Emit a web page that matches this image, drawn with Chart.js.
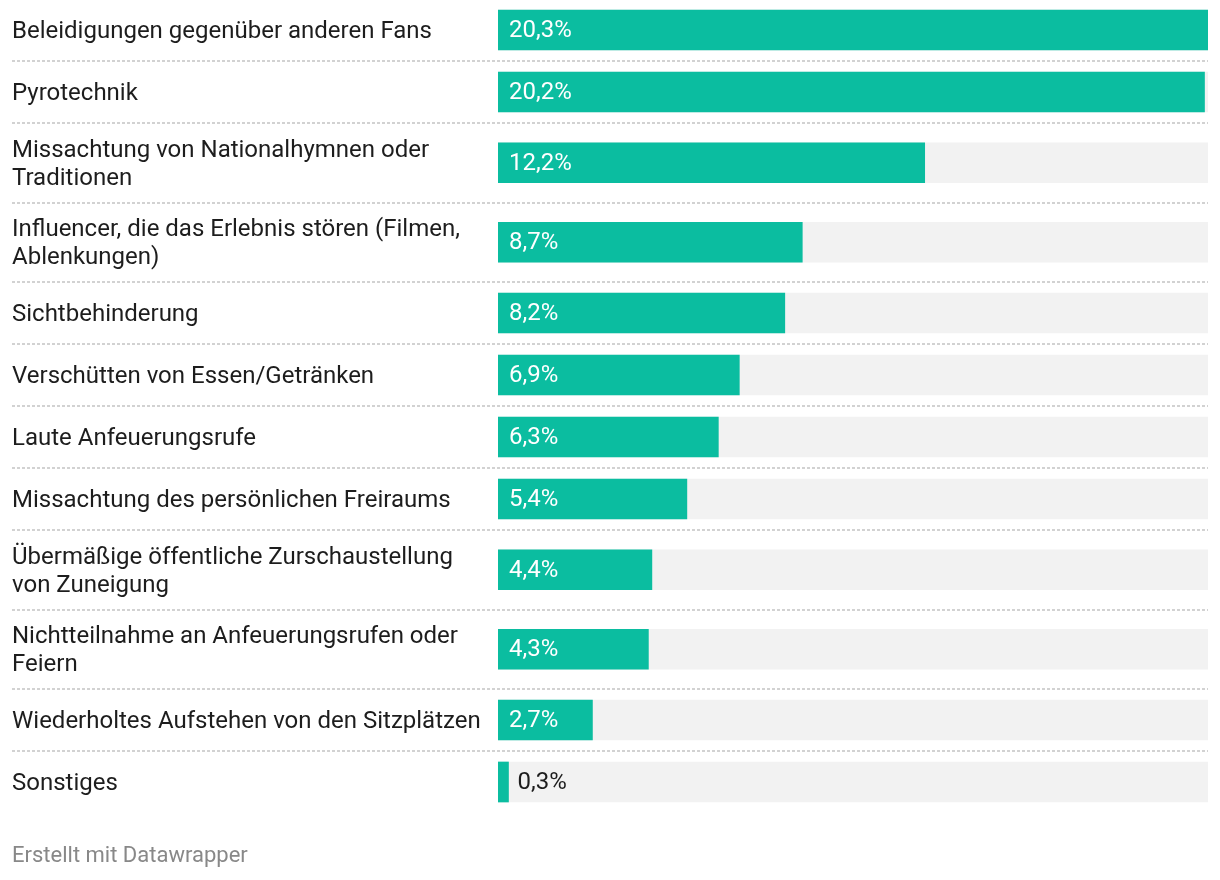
<!DOCTYPE html>
<html>
<head>
<meta charset="utf-8">
<script src="https://cdn.jsdelivr.net/npm/chart.js@4/dist/chart.umd.min.js"></script>
<style>
  html, body { margin: 0; padding: 0; background: #ffffff; }
  #wrap { position: relative; width: 1220px; height: 880px; overflow: hidden; }
  #chart { position: absolute; left: 0; top: 0; }
  #footer { position: absolute; left: 12px; top: 842px; font-family: Roboto, sans-serif; font-size: 22px; color: #888888; line-height: 26px; }
</style>
</head>
<body>
<div id="wrap">
  <canvas id="chart" width="1220" height="880"></canvas>
  <div id="footer">Erstellt mit Datawrapper</div>
</div>
<script>
// ---- Data ----
const categories = [
  "Beleidigungen gegenüber anderen Fans",
  "Pyrotechnik",
  "Missachtung von Nationalhymnen oder\nTraditionen",
  "Influencer, die das Erlebnis stören (Filmen,\nAblenkungen)",
  "Sichtbehinderung",
  "Verschütten von Essen/Getränken",
  "Laute Anfeuerungsrufe",
  "Missachtung des persönlichen Freiraums",
  "Übermäßige öffentliche Zurschaustellung\nvon Zuneigung",
  "Nichtteilnahme an Anfeuerungsrufen oder\nFeiern",
  "Wiederholtes Aufstehen von den Sitzplätzen",
  "Sonstiges"
];
const values = [20.3, 20.2, 12.2, 8.7, 8.2, 6.9, 6.3, 5.4, 4.4, 4.3, 2.7, 0.3];
const valueLabels = ["20,3%", "20,2%", "12,2%", "8,7%", "8,2%", "6,9%", "6,3%", "5,4%", "4,4%", "4,3%", "2,7%", "0,3%"];
const scaleMax = 20.3;

// ---- Layout (row heights derived from number of label lines) ----
const SINGLE_ROW = 62, DOUBLE_ROW = 79.5, LINE_H = 28;
const labelLines = categories.map(c => c.split("\n"));
const rowHeights = labelLines.map(l => l.length > 1 ? DOUBLE_ROW : SINGLE_ROW);
const rowCenters = [];
const rowBounds = [];
let acc = 0;
rowHeights.forEach((h, i) => {
  rowCenters.push(acc + h / 2);
  acc += h;
  if (i < rowHeights.length - 1) rowBounds.push(acc);
});
const totalRows = acc;

const FONT = "Roboto, sans-serif";
const TEAL = "#0bbda0";

const separatorPlugin = {
  id: "separators",
  beforeDatasetsDraw(chart) {
    const ctx = chart.ctx;
    const y = chart.scales.y;
    ctx.save();
    ctx.strokeStyle = "#d2d2d2";
    ctx.lineWidth = 2;
    ctx.setLineDash([3, 2]);
    rowBounds.forEach(b => {
      const py = Math.round(y.getPixelForValue(b));
      ctx.beginPath();
      ctx.moveTo(12, py);
      ctx.lineTo(1208, py);
      ctx.stroke();
    });
    ctx.restore();
  }
};

const categoryLabelPlugin = {
  id: "categoryLabels",
  afterDraw(chart) {
    const ctx = chart.ctx;
    const y = chart.scales.y;
    ctx.save();
    ctx.font = "24px " + FONT;
    ctx.fillStyle = "#1d1d1d";
    ctx.textAlign = "left";
    ctx.textBaseline = "middle";
    labelLines.forEach((lines, i) => {
      const cy = y.getPixelForValue(rowCenters[i]) + 2;
      const start = cy - (lines.length - 1) * LINE_H / 2;
      lines.forEach((ln, k) => ctx.fillText(ln, 12, start + k * LINE_H));
    });
    ctx.restore();
  }
};

const valuePlugin = {
  id: "valueLabels",
  afterDatasetsDraw(chart) {
    const ctx = chart.ctx;
    const meta = chart.getDatasetMeta(0);
    ctx.save();
    ctx.font = "24px " + FONT;
    ctx.textBaseline = "middle";
    ctx.textAlign = "left";
    meta.data.forEach((bar, i) => {
      const txt = valueLabels[i];
      const w = ctx.measureText(txt).width;
      const barW = bar.x - bar.base;
      if (barW > w + 22) {
        ctx.fillStyle = "#ffffff";
        ctx.fillText(txt, bar.base + 11, bar.y + 1);
      } else {
        ctx.fillStyle = "#1d1d1d";
        ctx.fillText(txt, bar.x + 9, bar.y + 1);
      }
    });
    ctx.restore();
  }
};

new Chart(document.getElementById("chart"), {
  type: "bar",
  data: {
    datasets: [
      {
        data: values.map((v, i) => ({ x: v, y: rowCenters[i] })),
        backgroundColor: TEAL,
        barThickness: 40,
        grouped: false,
        borderWidth: 0
      },
      {
        data: values.map((v, i) => ({ x: scaleMax, y: rowCenters[i] })),
        backgroundColor: "#f2f2f2",
        barThickness: 40,
        grouped: false,
        borderWidth: 0
      }
    ]
  },
  options: {
    indexAxis: "y",
    responsive: false,
    animation: false,
    events: [],
    layout: { padding: { left: 498, right: 12, top: 0, bottom: 880 - totalRows } },
    plugins: { legend: { display: false }, tooltip: { enabled: false } },
    scales: {
      x: { type: "linear", min: 0, max: scaleMax, display: false },
      y: { type: "linear", reverse: true, offset: false, min: 1, max: totalRows + 1, display: false }
    }
  },
  plugins: [separatorPlugin, valuePlugin, categoryLabelPlugin]
});
</script>
</body>
</html>
